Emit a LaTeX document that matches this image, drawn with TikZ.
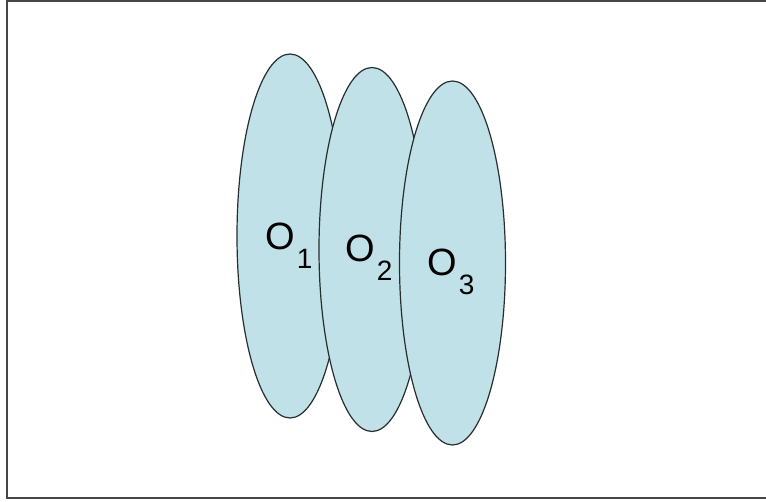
\documentclass[tikz,border=0pt]{standalone}
\usepackage{fontspec}
\setmainfont{Liberation Sans}
\usepackage{tikz}
\usetikzlibrary{shapes.geometric, positioning}
\definecolor{lensfill}{RGB}{192,225,232}
\definecolor{lensline}{RGB}{40,45,45}
\definecolor{framegray}{RGB}{70,70,70}
\tikzset{
  lensnode/.style={ellipse,draw=lensline,fill=lensfill,line width=1.2pt,minimum width=106pt,minimum height=364pt,inner sep=0pt},
  labelnode/.style={inner sep=0pt,anchor=base west,font=\fontsize{38}{40}\selectfont},
  framebox/.style={draw=framegray,line width=2pt}
}
\newcommand{\osub}[1]{O\hspace{2pt}\raisebox{-19pt}{\fontsize{28}{30}\selectfont #1}}

\begin{document}
\begin{tikzpicture}[x=1pt,y=-1pt]
  \useasboundingbox (0,0) rectangle (766,502);
  \draw[framebox] (7,1) rectangle (790,498);

  \node[lensnode] (lens1) at (290,236) {};
  \node[lensnode] (lens2) at (372,249.5) {};
  \node[lensnode] (lens3) at (452.5,263) {};

  \node[labelnode] (o1) at (265,250) {\osub{1}};
  \node[labelnode] (o2) at (345,262) {\osub{2}};
  \node[labelnode] (o3) at (427,276) {\osub{3}};
\end{tikzpicture}
\end{document}
